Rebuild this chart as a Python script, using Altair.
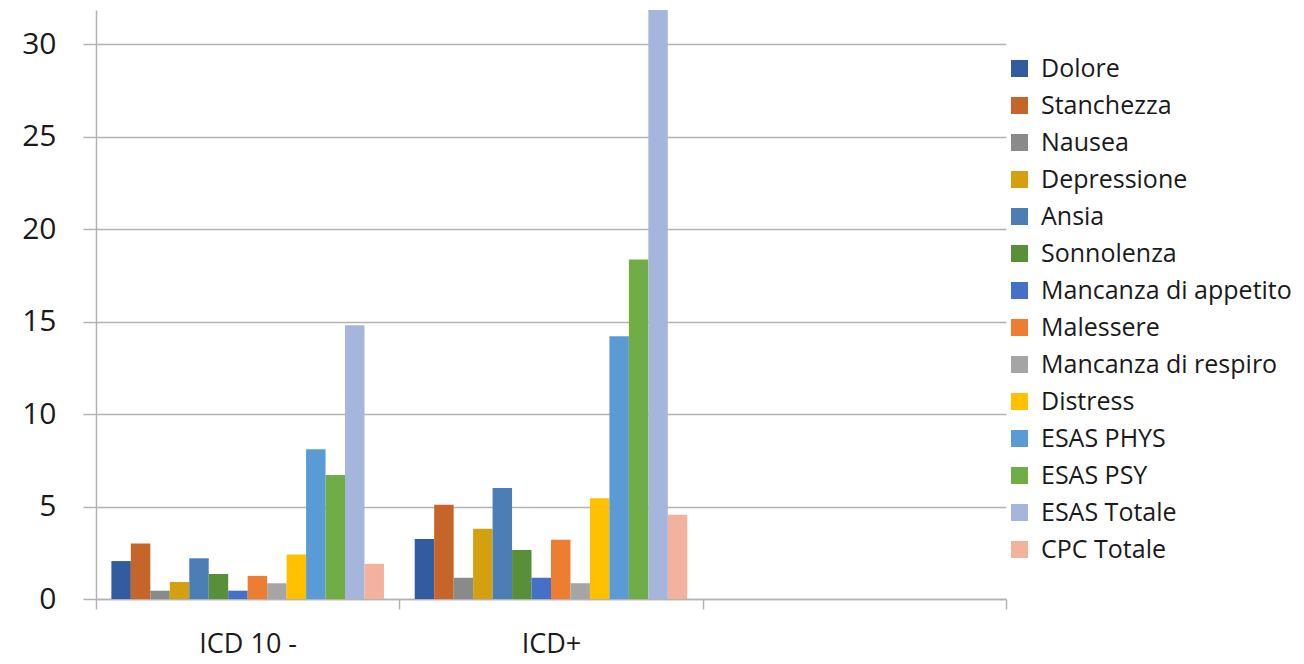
import altair as alt
import pandas as pd

groups = ["ICD 10 -", "ICD+"]
x_domain = ["ICD 10 -", "ICD+", " "]

series = [
    "Dolore", "Stanchezza", "Nausea", "Depressione", "Ansia", "Sonnolenza",
    "Mancanza di appetito", "Malessere", "Mancanza di respiro", "Distress",
    "ESAS PHYS", "ESAS PSY", "ESAS Totale", "CPC Totale",
]

icd10_neg = [2.05, 3.0, 0.45, 0.92, 2.2, 1.35, 0.45, 1.25, 0.85, 2.4, 8.1, 6.7, 14.8, 1.9]
icd_pos = [3.25, 5.1, 1.15, 3.8, 6.0, 2.65, 1.15, 3.2, 0.85, 5.45, 14.2, 18.35, 32.5, 4.55]

colors = [
    "#325c9f", "#c5652a", "#8a8a8a", "#d4a010", "#4a7eb4", "#5a8f3a",
    "#4470c8", "#ed7d31", "#a5a5a5", "#ffc000", "#5b9bd5", "#70ad47",
    "#a6b5dc", "#f3b29d",
]

y_ticks = [0, 5, 10, 15, 20, 25, 30]

rows = []
for g, vals in zip(groups, [icd10_neg, icd_pos]):
    for s, v in zip(series, vals):
        rows.append({"gruppo": g, "voce": s, "valore": v})
df = pd.DataFrame(rows)

FONT = "Open Sans"
GRID = "#b3b3b3"
TXT = "#1a1a1a"

chart = (
    alt.Chart(df)
    .mark_bar(clip=True)
    .encode(
        x=alt.X(
            "gruppo:N",
            sort=x_domain,
            scale=alt.Scale(domain=x_domain, paddingInner=0, paddingOuter=0),
            axis=alt.Axis(
                title=None,
                labelAngle=0,
                tickBand="extent",
                tickSize=10,
                tickColor=GRID,
                tickWidth=1.5,
                domainColor=GRID,
                domainWidth=1.5,
                labelFont=FONT,
                labelFontSize=27,
                labelColor=TXT,
                labelPadding=22,
                grid=False,
            ),
        ),
        xOffset=alt.XOffset(
            "voce:N",
            sort=series,
            scale=alt.Scale(domain=series, paddingInner=0, paddingOuter=0.79),
        ),
        y=alt.Y(
            "valore:Q",
            scale=alt.Scale(domain=[0, 31.84], nice=False, zero=True),
            axis=alt.Axis(
                title=None,
                values=y_ticks,
                tickSize=13,
                tickColor=GRID,
                tickWidth=1.5,
                domainColor=GRID,
                domainWidth=1.5,
                grid=True,
                gridColor=GRID,
                gridWidth=1.5,
                labelFont=FONT,
                labelFontSize=30,
                labelColor=TXT,
                labelPadding=27,
            ),
        ),
        color=alt.Color(
            "voce:N",
            sort=series,
            scale=alt.Scale(domain=series, range=colors),
            legend=alt.Legend(
                title=None,
                orient="none",
                legendX=911,
                legendY=46,
                padding=0,
                symbolType="square",
                symbolSize=289,
                symbolStrokeWidth=0,
                symbolOpacity=1,
                labelFont=FONT,
                labelFontSize=25,
                labelColor=TXT,
                labelOffset=9,
                rowPadding=11,
                labelLimit=400,
            ),
        ),
    )
    .properties(
        width=910,
        height=589,
        padding={"left": 13, "top": 2, "right": 0, "bottom": 5},
        background="white",
    )
    .configure_view(stroke=None)
)

chart.save("out.html", embed_options={"renderer": "svg", "actions": False})
